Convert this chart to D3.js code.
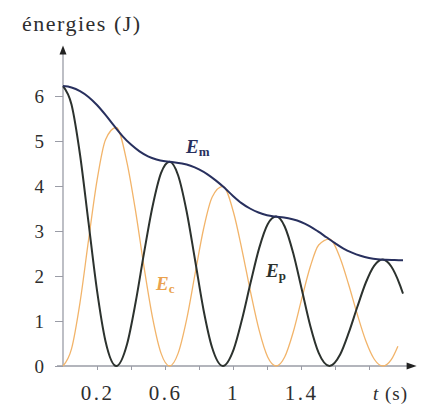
<!DOCTYPE html>
<html>
<head>
<meta charset="utf-8">
<script src="https://cdn.jsdelivr.net/npm/d3@7"></script>
<style>
  html, body { margin: 0; padding: 0; background: #fff; }
  svg { display: block; }
  text { font-family: "Liberation Serif", "DejaVu Serif", serif; }
</style>
</head>
<body>
<svg id="chart" width="432" height="412"></svg>
<script>
// Mechanical energy of a damped oscillator (J) versus time (s)
const emTimes = [0, 0.05, 0.1, 0.15, 0.2, 0.25, 0.3, 0.35, 0.4, 0.45, 0.5, 0.55, 0.6, 0.65, 0.7,
  0.75, 0.8, 0.85, 0.9, 0.95, 1.0, 1.05, 1.1, 1.15, 1.2, 1.25, 1.3, 1.35, 1.4, 1.45, 1.5,
  1.55, 1.6, 1.65, 1.7, 1.75, 1.8, 1.85, 1.9, 1.95, 2.0];
const emValues = [6.22, 6.19, 6.11, 5.98, 5.8, 5.58, 5.34, 5.11, 4.92, 4.77, 4.66, 4.59, 4.55, 4.53, 4.5,
  4.45, 4.37, 4.26, 4.12, 3.96, 3.78, 3.62, 3.5, 3.41, 3.35, 3.32, 3.3, 3.26, 3.2, 3.11, 2.99,
  2.86, 2.73, 2.61, 2.52, 2.45, 2.4, 2.37, 2.36, 2.355, 2.35];

// Potential energy
const epTimes = [0, 0.05, 0.1, 0.15, 0.2, 0.25, 0.3135, 0.377, 0.427, 0.477, 0.527, 0.577, 0.627,
  0.677, 0.727, 0.777, 0.827, 0.877, 0.9405, 1.004, 1.054, 1.104, 1.154, 1.204, 1.254,
  1.304, 1.354, 1.404, 1.454, 1.504, 1.5675, 1.631, 1.681, 1.731, 1.781, 1.831, 1.881,
  1.931, 1.981, 2.0];
const epValues = [6.22, 5.81, 4.7, 3.19, 1.68, 0.55, 0, 0.49, 1.41, 2.52, 3.55, 4.29, 4.54,
  4.24, 3.44, 2.35, 1.24, 0.41, 0, 0.37, 1.05, 1.86, 2.62, 3.15, 3.32,
  3.1, 2.51, 1.71, 0.9, 0.29, 0, 0.26, 0.74, 1.31, 1.85, 2.23, 2.365,
  2.21, 1.81, 1.61];

// Kinetic energy
const ecTimes = [0, 0.05, 0.1, 0.15, 0.2, 0.25, 0.3135, 0.377, 0.427, 0.477, 0.527, 0.577, 0.627,
  0.677, 0.727, 0.777, 0.827, 0.877, 0.9405, 1.004, 1.054, 1.104, 1.154, 1.204, 1.254,
  1.304, 1.354, 1.404, 1.454, 1.504, 1.5675, 1.631, 1.681, 1.731, 1.781, 1.831, 1.881,
  1.931, 1.97];
const ecValues = [0, 0.38, 1.41, 2.79, 4.12, 5.03, 5.3, 4.51, 3.44, 2.19, 1.07, 0.28, 0,
  0.28, 1.03, 2.05, 3.05, 3.75, 3.99, 3.4, 2.56, 1.63, 0.79, 0.2, 0,
  0.2, 0.75, 1.49, 2.2, 2.69, 2.82, 2.39, 1.8, 1.15, 0.56, 0.15, 0,
  0.14, 0.44];

const yTicks = [0, 1, 2, 3, 4, 5, 6];
const xTicks = [0.2, 0.4, 0.6, 0.8, 1.0, 1.2, 1.4, 1.6, 1.8];
const xTickLabels = ["0.2", "", "0.6", "", "1", "", "1.4", "", ""];

const svg = d3.select("#chart");
const serif = "'Liberation Serif', 'DejaVu Serif', serif";

const x = d3.scaleLinear().domain([0, 2.08]).range([63, 63 + 2.08 * 170]);
const y = d3.scaleLinear().domain([0, 7.1]).range([366, 366 - 7.1 * 45]);

const axisColor = "#9a9ca6";
const textColor = "#2e2e2e";

// Y axis with arrow
const yAxis = d3.axisLeft(y).tickValues(yTicks).tickSize(8).tickFormat(d3.format("d"));
const gy = svg.append("g").attr("transform", `translate(${x(0)},0)`).call(yAxis)
  .attr("font-family", serif);
gy.select(".domain").remove();
gy.selectAll(".tick line").attr("stroke", axisColor).attr("stroke-width", 1);
gy.selectAll(".tick text")
  .attr("x", -19)
  .attr("fill", textColor)
  .style("font-size", "19px")
  .style("font-family", serif);

svg.append("line")
  .attr("x1", x(0)).attr("x2", x(0))
  .attr("y1", y(0)).attr("y2", y(7.1) + 6)
  .attr("stroke", axisColor).attr("stroke-width", 1.3);
svg.append("path")
  .attr("d", `M${x(0)},${y(7.1) - 1} l-3.5,9 l7,0 z`)
  .attr("fill", "#222");

// X axis with arrow
const gx = svg.append("g").attr("transform", `translate(0,${y(0)})`)
  .call(d3.axisBottom(x).tickValues(xTicks).tickSize(4).tickFormat((d, i) => xTickLabels[i]))
  .attr("font-family", serif);
gx.select(".domain").remove();
gx.selectAll(".tick line").attr("stroke", axisColor).attr("stroke-width", 1);
gx.selectAll(".tick text")
  .attr("y", 19)
  .attr("dy", "0.71em")
  .attr("fill", textColor)
  .style("font-size", "21px")
  .style("letter-spacing", "2.5px")
  .style("font-family", serif);

svg.append("line")
  .attr("x1", x(0) - 6).attr("x2", x(2.08) - 6)
  .attr("y1", y(0)).attr("y2", y(0))
  .attr("stroke", axisColor).attr("stroke-width", 1.3);
svg.append("path")
  .attr("d", `M${x(2.08)},${y(0)} l-10,-3.5 l0,7 z`)
  .attr("fill", "#222");

// Axis titles
svg.append("text")
  .attr("x", 22).attr("y", 31)
  .attr("fill", textColor)
  .style("font-family", serif)
  .style("font-size", "22px")
  .style("letter-spacing", "1.5px")
  .text("énergies (J)");

const tLabel = svg.append("text")
  .attr("x", 373).attr("y", 400)
  .attr("fill", textColor)
  .style("font-family", serif)
  .style("font-size", "19px")
  .style("letter-spacing", "1px");
tLabel.append("tspan").style("font-style", "italic").text("t");
tLabel.append("tspan").text(" (s)");

// Curves
const line = d3.line()
  .x(d => x(d[0]))
  .y(d => y(d[1]))
  .curve(d3.curveMonotoneX);

const ecData = d3.zip(ecTimes, ecValues);
const epData = d3.zip(epTimes, epValues);
const emData = d3.zip(emTimes, emValues);

svg.append("path").datum(ecData)
  .attr("d", line).attr("fill", "none")
  .attr("stroke", "#f2b46a").attr("stroke-width", 1.3);

svg.append("path").datum(epData)
  .attr("d", line).attr("fill", "none")
  .attr("stroke", "#2c322e").attr("stroke-width", 2);

svg.append("path").datum(emData)
  .attr("d", line).attr("fill", "none")
  .attr("stroke", "#28305e").attr("stroke-width", 2);

// Curve labels
function energyLabel(px, py, sub, color) {
  const t = svg.append("text")
    .attr("x", px).attr("y", py)
    .attr("fill", color)
    .style("font-family", serif)
    .style("font-size", "19px")
    .style("font-weight", "bold");
  t.append("tspan").style("font-style", "italic").text("E");
  t.append("tspan").attr("dy", 3).style("font-size", "13px").text(sub);
}
energyLabel(186, 153, "m", "#28305e");
energyLabel(266, 277, "p", "#2c322e");
energyLabel(156, 290, "c", "#eaa24e");
</script>
</body>
</html>
